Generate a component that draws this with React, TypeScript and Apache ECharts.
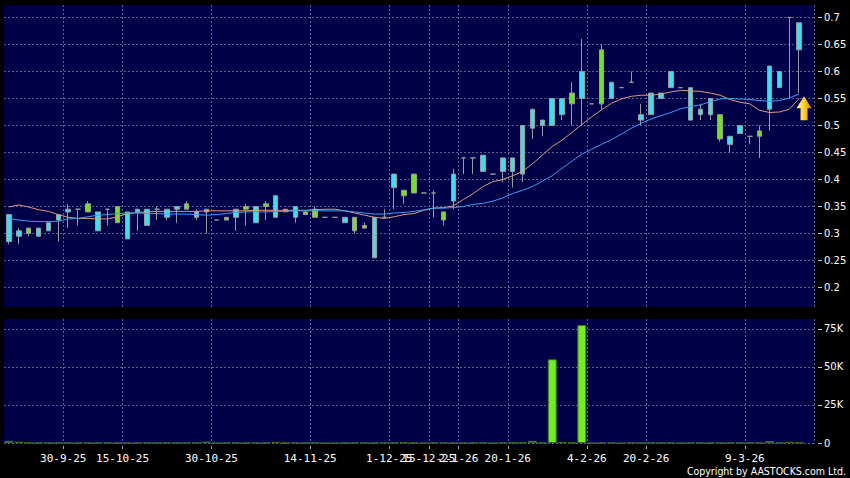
import React, { useEffect, useRef } from "react";
import * as echarts from "echarts";

// ---- data ----
const opens = [0.285,0.295,0.31,0.295,0.305,0.325,0.34,0.345,0.355,0.305, 0.345,0.35,0.29,0.34,0.315,0.345,0.33,0.345,0.355,0.33, 0.345,0.325,0.33,0.33,0.35,0.32,0.355,0.33,0.345,0.33, 0.34,0.345,0.33,0.33,0.32,0.33,0.315,0.255,0.33,0.385, 0.38,0.41,0.375,0.375,0.34,0.36,0.44,0.44,0.415,0.41, 0.415,0.415,0.41,0.495,0.5,0.5,0.52,0.56,0.55,0.54, 0.64,0.55,0.57,0.58,0.51,0.52,0.55,0.57,0.57,0.51, 0.52,0.52,0.52,0.465,0.485,0.48,0.49,0.53,0.57,0.7, 0.64];
const closes = [0.335,0.305,0.3,0.31,0.32,0.335,0.345,0.345,0.34,0.34, 0.345,0.32,0.34,0.345,0.345,0.345,0.345,0.35,0.345,0.34, 0.34,0.325,0.325,0.345,0.345,0.35,0.35,0.37,0.34,0.35, 0.335,0.33,0.33,0.33,0.33,0.305,0.31,0.33,0.33,0.41, 0.37,0.375,0.375,0.375,0.325,0.41,0.44,0.44,0.445,0.41, 0.44,0.44,0.5,0.53,0.51,0.55,0.55,0.54,0.6,0.54, 0.54,0.58,0.57,0.58,0.52,0.56,0.56,0.6,0.57,0.57, 0.53,0.55,0.475,0.48,0.5,0.48,0.48,0.61,0.6,0.7, 0.69];
const lows = [0.28,0.28,0.295,0.295,0.305,0.285,0.31,0.315,0.34,0.305, 0.315,0.32,0.29,0.305,0.315,0.325,0.325,0.32,0.345,0.325, 0.3,0.325,0.325,0.305,0.315,0.32,0.325,0.33,0.34,0.32, 0.335,0.33,0.33,0.33,0.32,0.3,0.31,0.255,0.33,0.345, 0.355,0.375,0.375,0.33,0.315,0.345,0.41,0.41,0.415,0.41, 0.395,0.385,0.395,0.475,0.48,0.5,0.51,0.5,0.5,0.54, 0.53,0.55,0.57,0.58,0.5,0.52,0.55,0.57,0.57,0.51, 0.51,0.51,0.47,0.45,0.485,0.465,0.44,0.49,0.57,0.55, 0.56];
const highs = [0.335,0.31,0.31,0.31,0.32,0.335,0.355,0.345,0.36,0.34, 0.345,0.35,0.34,0.345,0.345,0.35,0.345,0.35,0.36,0.345, 0.345,0.325,0.33,0.345,0.355,0.35,0.36,0.37,0.345,0.35, 0.34,0.35,0.33,0.33,0.33,0.33,0.32,0.33,0.345,0.41, 0.38,0.41,0.375,0.38,0.34,0.42,0.44,0.44,0.445,0.41, 0.44,0.44,0.5,0.53,0.51,0.55,0.55,0.58,0.66,0.54, 0.65,0.58,0.57,0.6,0.54,0.56,0.56,0.6,0.57,0.57, 0.54,0.55,0.52,0.48,0.5,0.48,0.5,0.61,0.6,0.7, 0.69];
const volumes = [1500,900,200,200,200,200,200,200,200,200, 200,200,200,200,200,200,200,200,200,200, 1000,0,200,200,200,200,200,700,200,200, 200,200,0,0,200,200,200,200,200,200, 500,200,0,200,200,200,200,200,200,0, 200,200,300,1500,200,55000,800,300,77500,0, 200,200,0,200,200,200,200,200,0,200, 200,200,200,200,200,200,200,1300,200,800, 300];
const maShort = [0.349,0.353,0.349,0.344,0.341,0.335,0.33,0.328,0.328,0.327, 0.327,0.331,0.337,0.339,0.34,0.341,0.341,0.341,0.341,0.341, 0.342,0.342,0.342,0.342,0.342,0.343,0.343,0.343,0.343,0.343, 0.343,0.344,0.345,0.345,0.342,0.338,0.334,0.33,0.328,0.331, 0.335,0.337,0.343,0.347,0.348,0.351,0.363,0.374,0.387,0.396, 0.4,0.407,0.415,0.429,0.445,0.461,0.473,0.487,0.502,0.516, 0.529,0.541,0.549,0.554,0.556,0.556,0.558,0.562,0.565,0.564, 0.563,0.56,0.556,0.548,0.543,0.54,0.528,0.524,0.525,0.53, 0.55];
const maLong = [0.328,0.325,0.323,0.322,0.322,0.323,0.327,0.328,0.331,0.334, 0.335,0.337,0.338,0.338,0.337,0.337,0.336,0.336,0.336,0.335, 0.334,0.335,0.337,0.339,0.34,0.34,0.34,0.341,0.341,0.342, 0.342,0.342,0.342,0.342,0.342,0.34,0.338,0.336,0.336,0.338, 0.339,0.341,0.344,0.347,0.347,0.348,0.35,0.354,0.356,0.36, 0.366,0.374,0.38,0.387,0.397,0.407,0.421,0.434,0.447,0.456, 0.465,0.474,0.484,0.495,0.504,0.512,0.518,0.524,0.531,0.535, 0.538,0.544,0.549,0.55,0.549,0.548,0.546,0.545,0.546,0.551, 0.558];

// date ticks: label text and the slot at whose left edge it sits
const dateLabels = ["30-9-25","15-10-25","30-10-25","14-11-25","1-12-25","15-12-25","2-1-26","20-1-26","4-2-26","20-2-26","9-3-26"];
const dateSlots = [6,12,21,31,39,43,46,51,59,65,75];
const priceTicks = [0.2,0.25,0.3,0.35,0.4,0.45,0.5,0.55,0.6,0.65,0.7];
const volumeTicks = [0, 25000, 50000, 75000];
const volumeTickLabels = ["0", "25K", "50K", "75K"];
const slotCount = 82; // 81 sessions + one empty slot at the right
const arrowSlot = 81;
const arrowPrice = 0.532;

export default function App() {
  const ref = useRef<HTMLDivElement>(null);
  useEffect(() => {
    if (!ref.current) return;
    const chart = echarts.init(ref.current, undefined, { renderer: "svg" });
    const slots = Array.from({ length: slotCount }, (_, i) => String(i));
    const edges = Array.from({ length: slotCount + 1 }, (_, j) => {
      const k = dateSlots.indexOf(j);
      return k >= 0 ? dateLabels[k] : "";
    });
    const gridSet = new Set(dateSlots);
    const candleData = opens.map((o, i) => [o, closes[i], lows[i], highs[i]]);
    const gridLine = { show: true, lineStyle: { color: "#5e5e8e", width: 1, type: [2, 2] as any } };
    const labelFont = { color: "#ffffff", fontFamily: "DejaVu Sans", fontSize: 10 };
    const catAxis = (gridIndex: number) => ({
      type: "category", gridIndex, data: slots, boundaryGap: true,
      axisLine: { show: false }, axisTick: { show: false }, axisLabel: { show: false },
      splitLine: { ...gridLine, interval: (idx: number) => gridSet.has(idx) },
    });
    chart.setOption({
      animation: false,
      backgroundColor: "#000000",
      grid: [
        { left: 4, right: 36, top: 5, height: 302, show: true, backgroundColor: "#000048", borderWidth: 0, containLabel: false, outerBoundsMode: "none" },
        { left: 4, right: 36, top: 319, height: 125, show: true, backgroundColor: "#000048", borderWidth: 0, containLabel: false, outerBoundsMode: "none" },
      ],
      xAxis: [
        catAxis(0),
        catAxis(1),
        {
          type: "category", gridIndex: 1, data: edges, boundaryGap: false, position: "bottom", offset: 2,
          axisLine: { show: false },
          axisTick: { show: true, length: 3, interval: (idx: number) => gridSet.has(idx), lineStyle: { color: "#aaaaaa" } },
          axisLabel: { show: true, interval: (idx: number) => gridSet.has(idx), margin: 7, color: "#ffffff", fontFamily: "DejaVu Sans Mono", fontSize: 11 },
          splitLine: { show: false },
        },
      ],
      yAxis: [
        {
          type: "value", gridIndex: 0, position: "right", offset: 4, min: 0.164, max: 0.723,
          axisLine: { show: false },
          axisTick: { show: true, length: 4, customValues: priceTicks, lineStyle: { color: "#cccccc" } },
          axisLabel: { show: true, customValues: priceTicks, margin: 6, ...labelFont, formatter: (v: number) => String(+v.toFixed(2)) },
          splitLine: gridLine,
        },
        {
          type: "value", gridIndex: 1, position: "right", offset: 4, min: -600, max: 81400,
          axisLine: { show: false },
          axisTick: { show: true, length: 4, customValues: volumeTicks, lineStyle: { color: "#cccccc" } },
          axisLabel: { show: true, customValues: volumeTicks, margin: 6, ...labelFont, formatter: (v: number) => volumeTickLabels[volumeTicks.indexOf(v)] ?? "" },
          splitLine: gridLine,
        },
      ],
      series: [
        {
          type: "candlestick", xAxisIndex: 0, yAxisIndex: 0, data: candleData, barWidth: 5,
          itemStyle: { color: "#33e3f0", color0: "#6fe614", borderColor: "#9a9a9a", borderColor0: "#9a9a9a", borderColorDoji: "#9a9a9a", borderWidth: 1 },
          markPoint: {
            symbol: "path://M7.5,0 L15,12 L11,12 L11,24 L4,24 L4,12 L0,12 Z",
            symbolSize: [15, 24], symbolOffset: [-5, 0], label: { show: false },
            itemStyle: {
              color: new echarts.graphic.LinearGradient(0, 0, 1, 0, [
                { offset: 0, color: "#fff7a8" }, { offset: 0.5, color: "#ffd21c" }, { offset: 1, color: "#d08800" },
              ]),
            },
            data: [{ coord: [arrowSlot, arrowPrice] }],
          },
        },
        { type: "line", xAxisIndex: 0, yAxisIndex: 0, data: maShort, showSymbol: false, symbol: "none", lineStyle: { color: "#e09a78", width: 1 }, z: 3 },
        { type: "line", xAxisIndex: 0, yAxisIndex: 0, data: maLong, showSymbol: false, symbol: "none", lineStyle: { color: "#3aa0f0", width: 1 }, z: 3 },
        {
          type: "bar", xAxisIndex: 1, yAxisIndex: 1, data: volumes, barWidth: 9, barGap: "0%", barCategoryGap: "5%",
          itemStyle: { color: "#70f014", borderColor: "#3f6a2a", borderWidth: 1 },
        },
      ],
      graphic: [
        {
          type: "text", x: 846, y: 471,
          style: { text: "Copyright by AASTOCKS.com Ltd.", fill: "#ffffff", font: "10.5px 'DejaVu Sans Condensed', 'DejaVu Sans'", align: "right", verticalAlign: "middle" },
        },
      ],
    });
    return () => chart.dispose();
  }, []);
  return <div ref={ref} style={{ position: "fixed", left: 0, top: 0, width: 850, height: 478, background: "#000" }} />;
}
